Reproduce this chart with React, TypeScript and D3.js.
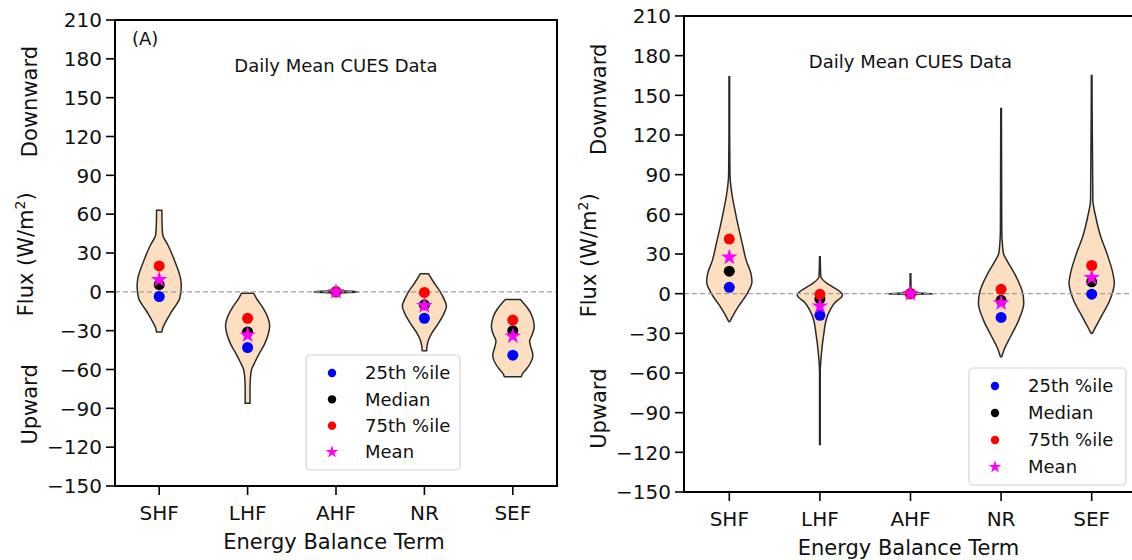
import React from "react";
import * as d3 from "d3";

const categories = ["SHF", "LHF", "AHF", "NR", "SEF"];
const yTickValues = [210, 180, 150, 120, 90, 60, 30, 0, -30, -60, -90, -120, -150];
const legendLabels = ["25th %ile", "Median", "75th %ile", "Mean"];

// violin density profiles, [flux, relative half-width]
const shfA: [number, number][] = [[63, 0.12], [52, 0.13], [44, 0.16], [36, 0.4], [23, 0.72], [10, 0.97], [4, 1.0], [-5, 0.93], [-15, 0.57], [-23, 0.3], [-28, 0.16], [-31, 0.12]];
const lhfA: [number, number][] = [[-1, 0.27], [-5, 0.4], [-12, 0.68], [-20, 0.92], [-26, 1.0], [-33, 0.93], [-41, 0.75], [-48, 0.52], [-54, 0.34], [-60, 0.18], [-66, 0.13], [-75, 0.11], [-86, 0.11]];
const ahfA: [number, number][] = [[0.8, 0.05], [0.3, 0.9], [0, 1.0], [-0.3, 0.9], [-0.8, 0.05]];
const nrA: [number, number][] = [[14, 0.19], [8, 0.4], [0, 0.72], [-6, 0.9], [-11, 1.0], [-18, 0.85], [-26, 0.57], [-32, 0.33], [-37, 0.19], [-42, 0.12], [-45.5, 0.1]];
const sefA: [number, number][] = [[-6, 0.34], [-10, 0.55], [-16, 0.8], [-22, 0.93], [-27, 0.97], [-33, 0.88], [-38, 0.76], [-43, 0.82], [-49, 0.91], [-55, 0.8], [-60, 0.6], [-63, 0.45], [-65.6, 0.38]];

const shfB: [number, number][] = [[164, 0.015], [120, 0.015], [90, 0.03], [75, 0.12], [63, 0.25], [50, 0.41], [38, 0.57], [25, 0.75], [15, 0.96], [9, 1.0], [0, 0.79], [-10, 0.39], [-17, 0.15], [-21, 0.03]];
const lhfB: [number, number][] = [[28, 0.015], [13, 0.04], [8, 0.3], [5, 0.58], [-1, 1.0], [-7, 0.65], [-17, 0.33], [-32, 0.16], [-45, 0.07], [-60, 0.015], [-114, 0.015]];
const ahfB: [number, number][] = [[15, 0.015], [1, 0.03], [0.3, 0.6], [0, 1.0], [-0.3, 0.6], [-0.8, 0.03]];
const nrB: [number, number][] = [[140, 0.015], [48, 0.03], [35, 0.07], [30, 0.11], [25, 0.26], [15, 0.6], [0, 0.96], [-7, 1.0], [-20, 0.78], [-32, 0.43], [-42, 0.14], [-47.7, 0.03]];
const sefB: [number, number][] = [[165, 0.015], [71, 0.05], [58, 0.18], [43, 0.4], [30, 0.68], [15, 0.94], [8, 1.0], [-5, 0.8], [-17, 0.43], [-25, 0.18], [-30, 0.03]];

// per-category statistics
const p25A = [-3.6, -43, 0, -20.4, -48.9];
const medianA = [5.5, -31, 0, -10, -30];
const p75A = [20, -20.5, 0, -0.5, -21.8];
const meanA = [9.3, -33.4, 0, -10.8, -34.2];

const p25B = [4.8, -16.4, 0, -18, -0.4];
const medianB = [17, -4, 0, -5, 9];
const p75B = [41.3, -0.5, 0, 3.3, 21.3];
const meanB = [27.5, -9.4, 0, -7, 12];

const statColors = ["#0000ff", "#000000", "#ff0000", "#ff00ff"];
const violinFill = "#fbdfc0";
const ink = "#111";
const font = "DejaVu Sans, sans-serif";

const panels = [
  {
    violins: [shfA, lhfA, ahfA, nrA, sefA],
    stats: [p25A, medianA, p75A, meanA],
    box: { left: 115, right: 557, top: 20, bottom: 486 },
    tag: "(A)",
    legend: { x: 306, y: 355, w: 154, h: 115 },
    labelX: { flux: 33, dir: 37 },
  },
  {
    violins: [shfB, lhfB, ahfB, nrB, sefB],
    stats: [p25B, medianB, p75B, meanB],
    box: { left: 684, right: 1137, top: 16, bottom: 492 },
    tag: "",
    legend: { x: 969, y: 368, w: 157, h: 117 },
    labelX: { flux: 596, dir: 606 },
  },
];

const Star = ({ x, y, size }: { x: number; y: number; size: number }) => (
  <path
    transform={`translate(${x},${y})`}
    d={d3.symbol().type(d3.symbolStar).size(size)() || ""}
    fill="#ff00ff"
  />
);

const Panel = ({ p }: { p: (typeof panels)[number] }) => {
  const { box } = p;
  const x = d3.scaleBand().domain(categories).range([box.left, box.right]).padding(0);
  const y = d3.scaleLinear().domain([-150, 210]).range([box.bottom, box.top]);
  const half = x.bandwidth() * 0.25;
  const cx = (c: string) => (x(c) || 0) + x.bandwidth() / 2;
  const midX = (box.left + box.right) / 2;
  const lg = p.legend;
  const rowH = (lg.h - 36) / 3;

  return (
    <g fontFamily={font}>
      {p.violins.map((prof, i) => {
        const c = cx(categories[i]);
        const area = d3
          .area<[number, number]>()
          .y((d) => y(d[0]))
          .x0((d) => c - d[1] * half)
          .x1((d) => c + d[1] * half)
          .curve(d3.curveMonotoneY);
        return (
          <path key={i} d={area(prof) || ""} fill={violinFill} stroke="#2a2a2a" strokeWidth={1.5} />
        );
      })}
      <line x1={box.left} x2={box.right} y1={y(0)} y2={y(0)} stroke="#a0a0a0" strokeWidth={1.2} strokeDasharray="5,3" />
      {p.stats.map((vals, s) =>
        vals.map((v, i) =>
          s === 3 ? (
            <Star key={`${s}-${i}`} x={cx(categories[i])} y={y(v)} size={85} />
          ) : (
            <circle key={`${s}-${i}`} cx={cx(categories[i])} cy={y(v)} r={5.5} fill={statColors[s]} />
          )
        )
      )}
      <rect x={box.left} y={box.top} width={box.right - box.left} height={box.bottom - box.top} fill="none" stroke="#000" strokeWidth={2} />
      {yTickValues.map((t) => (
        <g key={t}>
          <line x1={box.left - 9} x2={box.left} y1={y(t)} y2={y(t)} stroke="#000" strokeWidth={1.6} />
          <text x={box.left - 13} y={y(t)} dy="0.36em" textAnchor="end" fontSize={20} fill={ink}>
            {t < 0 ? `\u2212${Math.abs(t)}` : t}
          </text>
        </g>
      ))}
      {categories.map((c) => (
        <g key={c}>
          <line x1={cx(c)} x2={cx(c)} y1={box.bottom} y2={box.bottom + 9} stroke="#000" strokeWidth={1.6} />
          <text x={cx(c)} y={box.bottom + 34} textAnchor="middle" fontSize={20} fill={ink}>
            {c}
          </text>
        </g>
      ))}
      <text x={midX - 2} y={box.bottom + 63} textAnchor="middle" fontSize={21} fill={ink}>
        Energy Balance Term
      </text>
      <text transform={`translate(${p.labelX.dir},${y(147)}) rotate(-90)`} textAnchor="middle" fontSize={21} fill={ink}>
        Downward
      </text>
      <text transform={`translate(${p.labelX.flux},${y(29)}) rotate(-90)`} textAnchor="middle" fontSize={21} fill={ink}>
        Flux (W/m
        <tspan fontSize={14} dy="-0.6em">2</tspan>
        <tspan dy="0.4em">)</tspan>
      </text>
      <text transform={`translate(${p.labelX.dir},${y(-87)}) rotate(-90)`} textAnchor="middle" fontSize={21} fill={ink}>
        Upward
      </text>
      <text x={midX} y={box.top + 52} textAnchor="middle" fontSize={18} fill={ink}>
        Daily Mean CUES Data
      </text>
      {p.tag && (
        <text x={box.left + 17} y={box.top + 25} fontSize={18} fill={ink}>
          {p.tag}
        </text>
      )}
      <rect x={lg.x} y={lg.y} width={lg.w} height={lg.h} rx={4} fill="#fff" fillOpacity={0.85} stroke="#d4d4d4" strokeWidth={1.2} />
      {legendLabels.map((l, i) => {
        const ry = lg.y + 18 + i * rowH;
        return (
          <g key={l}>
            {i === 3 ? (
              <Star x={lg.x + 26} y={ry} size={50} />
            ) : (
              <circle cx={lg.x + 26} cy={ry} r={4.2} fill={statColors[i]} />
            )}
            <text x={lg.x + 59} y={ry} dy="0.36em" fontSize={18} fill={ink}>
              {l}
            </text>
          </g>
        );
      })}
    </g>
  );
};

export default function App() {
  return (
    <div style={{ position: "absolute", left: 0, top: 0 }}>
      <svg width={1132} height={560} style={{ display: "block", background: "#fff" }}>
        {panels.map((p, i) => (
          <Panel key={i} p={p} />
        ))}
      </svg>
    </div>
  );
}
